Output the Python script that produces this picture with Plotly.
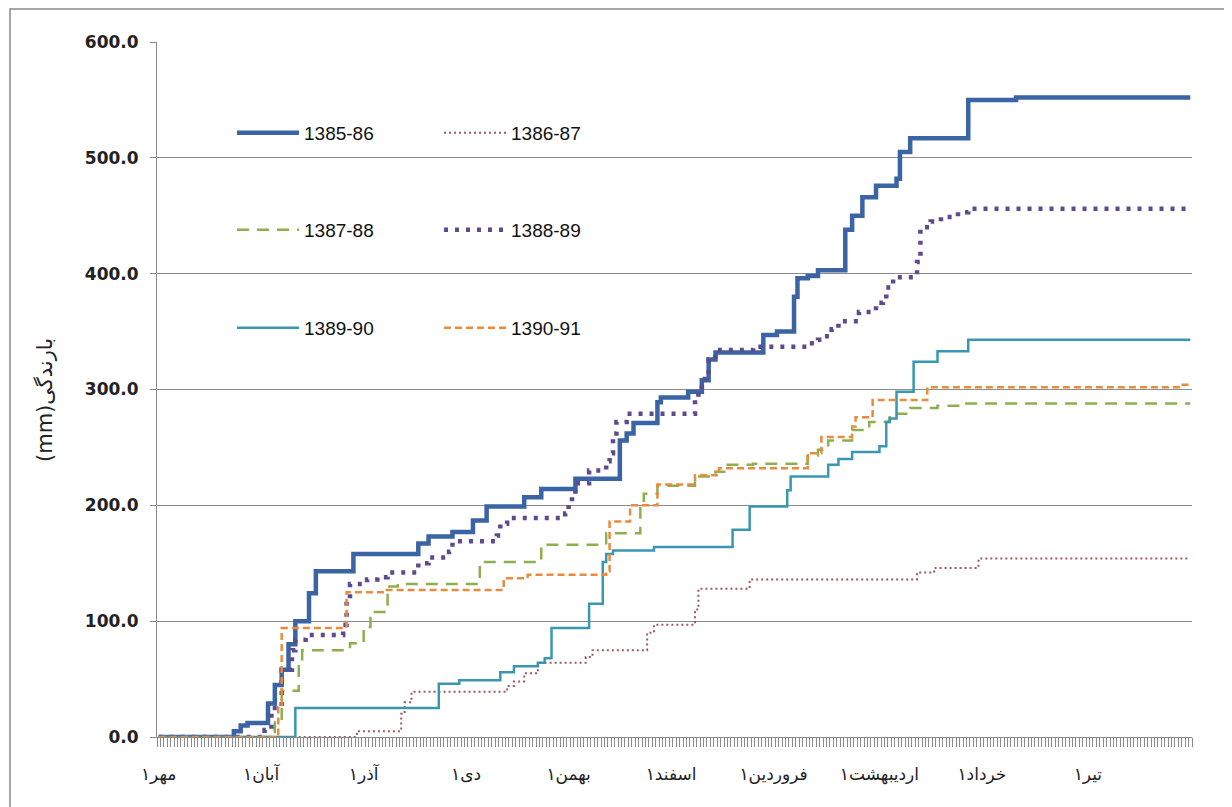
import plotly.graph_objects as go

# ---- data (day index from 1 Mehr, cumulative rainfall mm) ----
month_days = [0, 30, 60, 90, 120, 150, 180, 211, 241, 272]
month_labels = ["مهر۱", "آبان۱", "آذر۱", "دی۱", "بهمن۱", "اسفند۱",
                "فروردین۱", "اردیبهشت۱", "خرداد۱", "تیر۱"]

d85 = [0, 22, 24, 26, 32, 34, 36, 38, 40, 44, 46, 57, 76, 79, 86, 92, 96, 107, 112, 122,
       135, 137, 139, 146, 147, 155, 159, 161, 163, 177, 181, 186, 187, 190, 193, 201, 203,
       206, 210, 216, 217, 220, 237, 251, 302]
v85 = [0, 5, 10, 12, 29, 45, 58, 80, 100, 124, 143, 158, 167, 173, 177, 187, 199, 207, 214, 223,
       256, 262, 271, 289, 293, 298, 308, 326, 332, 347, 350, 380, 396, 398, 403, 438, 450,
       466, 476, 482, 505, 517, 550, 552, 552]

d86 = [0, 58, 71, 72, 74, 102, 104, 107, 111, 125, 127, 143, 145, 157, 158, 173, 222, 227, 240, 302]
v86 = [0, 5, 20, 30, 39, 44, 48, 55, 64, 69, 75, 90, 97, 110, 128, 136, 142, 146, 154, 154]

d87 = [0, 34, 36, 41, 42, 56, 60, 62, 67, 70, 94, 95, 112, 131, 141, 142, 146, 157, 163, 166,
       174, 190, 193, 196, 203, 208, 214, 220, 228, 236, 302]
v87 = [0, 14, 40, 66, 75, 81, 95, 108, 130, 132, 150, 151, 166, 176, 202, 210, 217, 225, 229, 235,
       236, 243, 248, 256, 265, 272, 279, 284, 286, 288, 288]

d88 = [0, 31, 33, 36, 39, 40, 43, 54, 55, 56, 61, 64, 67, 76, 79, 85, 86, 99, 100, 102,
       119, 120, 121, 122, 126, 131, 132, 133, 134, 137, 157, 158, 159, 161, 163, 174, 190,
       193, 195, 197, 199, 205, 210, 212, 213, 215, 222, 223, 226, 229, 234, 237, 302]
v88 = [0, 6, 25, 58, 75, 84, 88, 97, 117, 132, 136, 138, 142, 150, 155, 160, 169, 174, 184, 189,
       193, 202, 209, 219, 230, 238, 245, 262, 272, 279, 291, 300, 309, 326, 334, 337, 340,
       343, 346, 352, 359, 367, 375, 377, 388, 397, 410, 440, 445, 449, 453, 456, 456]

d89 = [0, 40, 82, 88, 100, 104, 111, 113, 115, 126, 130, 131, 133, 145, 168, 173, 184, 185,
       196, 199, 203, 211, 213, 214, 216, 221, 228, 237, 302]
v89 = [0, 25, 46, 49, 56, 61, 64, 68, 94, 115, 151, 158, 161, 164, 179, 199, 213, 225,
       235, 240, 246, 251, 272, 275, 298, 324, 333, 343, 343]

d90 = [0, 35, 36, 55, 66, 101, 108, 131, 132, 138, 146, 157, 164, 190, 194, 203, 204, 209, 225, 299, 302]
v90 = [0, 26, 94, 125, 127, 137, 140, 143, 186, 200, 218, 226, 232, 245, 259, 268, 276, 291, 302, 304, 304]

series = [
    ("1385-86", d85, v85, dict(color="#3B64A5", width=4.5, dash="solid"), "legend"),
    ("1386-87", d86, v86, dict(color="#A2585B", width=2, dash="2px,3px"), "legend"),
    ("1387-88", d87, v87, dict(color="#8DB04F", width=2.5, dash="12px,8px"), "legend2"),
    ("1388-89", d88, v88, dict(color="#5E4A8E", width=4.5, dash="4px,7px"), "legend2"),
    ("1389-90", d89, v89, dict(color="#3A97B1", width=2.5, dash="solid"), "legend3"),
    ("1390-91", d90, v90, dict(color="#E98B3C", width=2.5, dash="7px,4px"), "legend3"),
]

fig = go.Figure()
for name, xs, ys, line, leg in series:
    fig.add_trace(go.Scatter(x=xs, y=ys, name=name, mode="lines", line_shape="hv",
                             line=line, legend=leg))

# page body has an 8px margin; figure is placed at (8, 8)
OFF = 8
W, H = 1232 - OFF, 807 - OFF
L, R, T, B = 157 - OFF, 40, 42 - OFF, 70
pw, ph = W - L - R, H - T - B

def px_x(x):
    return (x - OFF - L) / pw

def px_y(y):
    return (OFF + H - B - y) / ph

leg_common = dict(orientation="h", xanchor="left", yanchor="middle", x=px_x(232),
                  bgcolor="rgba(0,0,0,0)", borderwidth=0,
                  font=dict(family="Liberation Sans, Arial, sans-serif", size=19, color="#111"),
                  itemwidth=62, entrywidth=130, traceorder="normal")

fig.update_layout(
    width=W, height=H,
    margin=dict(l=L, r=R, t=T, b=B, autoexpand=False),
    paper_bgcolor="white", plot_bgcolor="white",
    showlegend=True,
    legend=dict(y=px_y(133), **leg_common),
    legend2=dict(y=px_y(230), **leg_common),
    legend3=dict(y=px_y(328), **leg_common),
    xaxis=dict(range=[-0.5, 302.5], tickmode="array", tickvals=month_days, ticktext=month_labels,
               ticks="", showline=True, linecolor="#8A8A8A", linewidth=1,
               showgrid=False, zeroline=False,
               tickfont=dict(family="DejaVu Sans, sans-serif", size=17, color="#222"),
               ticklabelstandoff=22,
               minor=dict(ticks="outside", ticklen=9, tickcolor="#8A8A8A", tickwidth=1,
                          tick0=0.5, dtick=1, showgrid=False)),
    yaxis=dict(range=[0, 600], tick0=0, dtick=100, tickformat=".1f",
               showgrid=True, gridcolor="#8C8C8C", gridwidth=1,
               showline=True, linecolor="#8A8A8A", linewidth=1,
               ticks="outside", ticklen=6, tickcolor="#8A8A8A", zeroline=False,
               tickfont=dict(family="DejaVu Sans, sans-serif", size=17, color="#222", weight="bold"),
               ticklabelstandoff=8),
    annotations=[dict(text="(mm)بارندگی", textangle=-90, xref="paper", yref="paper",
                      x=px_x(45), y=px_y(400), xanchor="center", yanchor="middle",
                      showarrow=False,
                      font=dict(family="DejaVu Sans, sans-serif", size=21, color="#222"))],
    shapes=[dict(type="rect", xref="paper", yref="paper",
                 x0=px_x(10), x1=px_x(1228), y0=px_y(815), y1=px_y(9),
                 line=dict(color="#8A8A8A", width=1.5), fillcolor="rgba(0,0,0,0)", layer="below")],
)

fig.write_html("out.html")
